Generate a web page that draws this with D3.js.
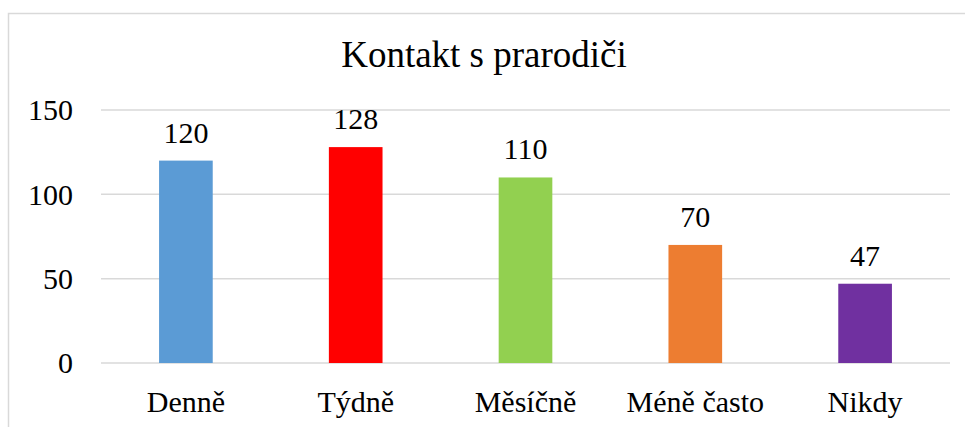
<!DOCTYPE html>
<html>
<head>
<meta charset="utf-8">
<script src="https://cdn.jsdelivr.net/npm/d3@7"></script>
</head>
<body style="margin:0;background:#fff">
<div id="graph"></div>
<script>
// data
var categories = ["Denně", "Týdně", "Měsíčně", "Méně často", "Nikdy"];
var values = [120, 128, 110, 70, 47];
var colors = ["#5B9BD5", "#FF0000", "#92D050", "#ED7D31", "#7030A0"];
var yTicks = [0, 50, 100, 150];
var title = "Kontakt s prarodiči";

var width = 965, height = 427;
var margin = { top: 110, right: 15, bottom: 64, left: 101 };
var font = "Liberation Serif";

var svg = d3.select("#graph")
  .append("svg")
  .attr("width", width)
  .attr("height", height)
  .style("display", "block")
  .style("font-family", font);

// chart border
svg.append("rect")
  .attr("x", 8.5)
  .attr("y", 13.5)
  .attr("width", width)
  .attr("height", height)
  .attr("fill", "none")
  .attr("stroke", "#d9d9d9")
  .attr("stroke-width", 1.5);

var x = d3.scaleBand()
  .domain(categories)
  .range([margin.left, width - margin.right])
  .paddingInner(0.684)
  .paddingOuter(0.342);

var y = d3.scaleLinear()
  .domain([0, 150])
  .range([height - margin.bottom, margin.top]);

// gridlines
svg.append("g")
  .selectAll("line")
  .data(yTicks)
  .enter()
  .append("line")
  .attr("x1", margin.left)
  .attr("x2", width - margin.right)
  .attr("y1", function(d) { return y(d); })
  .attr("y2", function(d) { return y(d); })
  .attr("stroke", "#d9d9d9")
  .attr("stroke-width", 1.5);

// y axis labels
var yAxis = svg.append("g")
  .attr("transform", "translate(" + (margin.left - 28) + ",0)")
  .call(d3.axisLeft(y).tickValues(yTicks).tickSize(0).tickPadding(0));
yAxis.attr("font-family", font).attr("font-size", 30);
yAxis.select(".domain").remove();
yAxis.selectAll("text")
  .style("font-family", font)
  .style("font-size", "30px")
  .attr("fill", "#000")
  .attr("dy", "0.33em");

// bars
svg.selectAll(".bar")
  .data(values)
  .enter()
  .append("rect")
  .attr("class", "bar")
  .attr("x", function(d, i) { return x(categories[i]); })
  .attr("width", x.bandwidth())
  .attr("y", function(d) { return y(d); })
  .attr("height", function(d) { return y(0) - y(d); })
  .attr("fill", function(d, i) { return colors[i]; });

// value labels
svg.selectAll(".val")
  .data(values)
  .enter()
  .append("text")
  .attr("class", "val")
  .attr("x", function(d, i) { return x(categories[i]) + x.bandwidth() / 2; })
  .attr("y", function(d) { return y(d) - 18; })
  .attr("text-anchor", "middle")
  .style("font-family", font)
  .style("font-size", "30px")
  .attr("fill", "#000")
  .text(function(d) { return d; });

// x axis labels
var xAxis = svg.append("g")
  .attr("transform", "translate(0," + y(0) + ")")
  .call(d3.axisBottom(x).tickSize(0).tickPadding(0));
xAxis.attr("font-family", font).attr("font-size", 30);
xAxis.select(".domain").remove();
xAxis.selectAll("text")
  .style("font-family", font)
  .style("font-size", "30px")
  .attr("fill", "#000")
  .attr("dy", null)
  .attr("y", 49);

// title
svg.append("text")
  .attr("x", 484)
  .attr("y", 67)
  .attr("text-anchor", "middle")
  .style("font-family", font)
  .style("font-size", "37px")
  .attr("fill", "#000")
  .text(title);
</script>
</body>
</html>
